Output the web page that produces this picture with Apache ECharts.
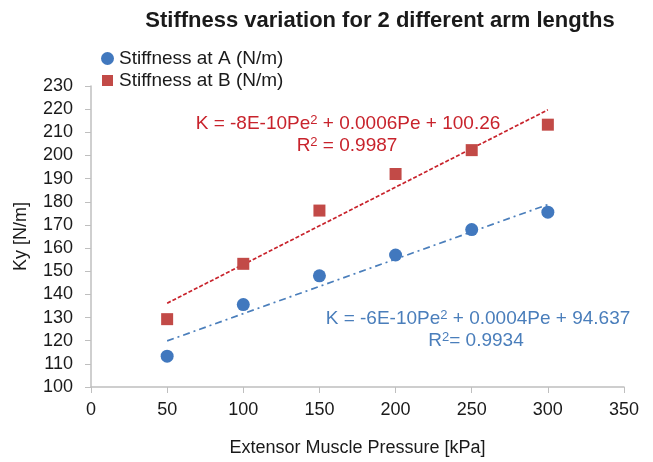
<!DOCTYPE html>
<html><head><meta charset="utf-8">
<script src="https://cdn.jsdelivr.net/npm/echarts@6/dist/echarts.min.js"></script>
<style>html,body{margin:0;padding:0;background:#fff}#c{width:653px;height:462px}</style>
</head><body><div id="c"></div>
<script>
const pressure = [50, 100, 150, 200, 250, 300];
const stiffA = [113.3, 135.6, 148.0, 157.0, 168.0, 175.5];
const stiffB = [129.3, 153.2, 176.2, 192.0, 202.3, 213.3];
const trendX = [50, 300];
const trendA = [119.9, 178.8];
const trendB = [136.2, 219.7];
const xTicks = [0, 350, 50];
const yTicks = [100, 230, 10];
const FONT = '"Liberation Sans", Arial, sans-serif';

const supRich = {s: {fontSize: 13, verticalAlign: 'top', lineHeight: 13, fontFamily: FONT}};
function eq(text, x, y, color) {
  return {type: 'text', x: x, y: y, z: 10,
    style: {text: text, fontSize: 19, fontFamily: FONT, fill: color, lineHeight: 21,
            align: 'center', verticalAlign: 'middle',
            rich: {s: Object.assign({}, supRich.s, {fill: color})}}};
}

const chart = echarts.init(document.getElementById('c'));
chart.setOption({
  animation: false,
  textStyle: {fontFamily: FONT},
  title: {
    text: 'Stiffness variation for 2 different arm lengths',
    left: 375, top: 5, textAlign: 'center',
    textStyle: {fontFamily: FONT, fontWeight: 'bold', fontSize: 22, color: '#1a1a1a'}
  },
  legend: {
    orient: 'vertical', left: 95, top: 44, itemGap: 3,
    itemWidth: 13, itemHeight: 13,
    data: [
      {name: 'Stiffness at A (N/m)', icon: 'circle'},
      {name: 'Stiffness at B (N/m)', icon: 'rect', itemStyle: {borderColor: '#fff', borderWidth: 2}}
    ],
    textStyle: {fontFamily: FONT, fontSize: 19, color: '#1a1a1a'}
  },
  grid: {left: 91, right: 29, top: 86, bottom: 74},
  xAxis: {
    type: 'value', min: xTicks[0], max: xTicks[1], interval: xTicks[2],
    name: 'Extensor Muscle Pressure [kPa]', nameLocation: 'middle', nameGap: 52,
    nameTextStyle: {fontFamily: FONT, fontSize: 18, color: '#1a1a1a'},
    axisLine: {lineStyle: {color: '#bfbfbf', width: 1.5}},
    axisTick: {show: true, length: 6, lineStyle: {color: '#bfbfbf'}},
    axisLabel: {fontFamily: FONT, fontSize: 18, color: '#1a1a1a', margin: 14},
    splitLine: {show: false}
  },
  yAxis: {
    type: 'value', min: yTicks[0], max: yTicks[1], interval: yTicks[2],
    name: 'Ky [N/m]', nameLocation: 'middle', nameGap: 61, nameRotate: 90,
    nameTextStyle: {fontFamily: FONT, fontSize: 18, color: '#1a1a1a'},
    axisLine: {show: true, lineStyle: {color: '#bfbfbf', width: 1.5}},
    axisTick: {show: true, length: 6, lineStyle: {color: '#bfbfbf'}},
    axisLabel: {fontFamily: FONT, fontSize: 18, color: '#1a1a1a', margin: 18},
    splitLine: {show: false}
  },
  series: [
    {name: 'Stiffness at A (N/m)', type: 'scatter', symbol: 'circle', symbolSize: 13,
     itemStyle: {color: '#4178be', opacity: 1}, data: pressure.map((p, i) => [p, stiffA[i]]), z: 3},
    {name: 'Stiffness at B (N/m)', type: 'scatter', symbol: 'rect', symbolSize: 12,
     itemStyle: {color: '#c24a47', opacity: 1}, data: pressure.map((p, i) => [p, stiffB[i]]), z: 3},
    {name: 'trendA', type: 'line', symbol: 'none', silent: true,
     lineStyle: {color: '#4a7ebb', width: 1.7, type: [7, 4, 2, 4]},
     data: trendX.map((p, i) => [p, trendA[i]]), z: 2},
    {name: 'trendB', type: 'line', symbol: 'none', silent: true,
     lineStyle: {color: '#c8232c', width: 1.7, type: [4, 2]},
     data: trendX.map((p, i) => [p, trendB[i]]), z: 2}
  ],
  graphic: [
    eq('K = -8E-10Pe{s|2} + 0.0006Pe + 100.26', 348, 124, '#c8232c'),
    eq('R{s|2} = 0.9987', 347, 146, '#c8232c'),
    eq('K = -6E-10Pe{s|2} + 0.0004Pe + 94.637', 478, 319, '#4a7ebb'),
    eq('R{s|2}= 0.9934', 476, 341, '#4a7ebb')
  ]
});
</script></body></html>
